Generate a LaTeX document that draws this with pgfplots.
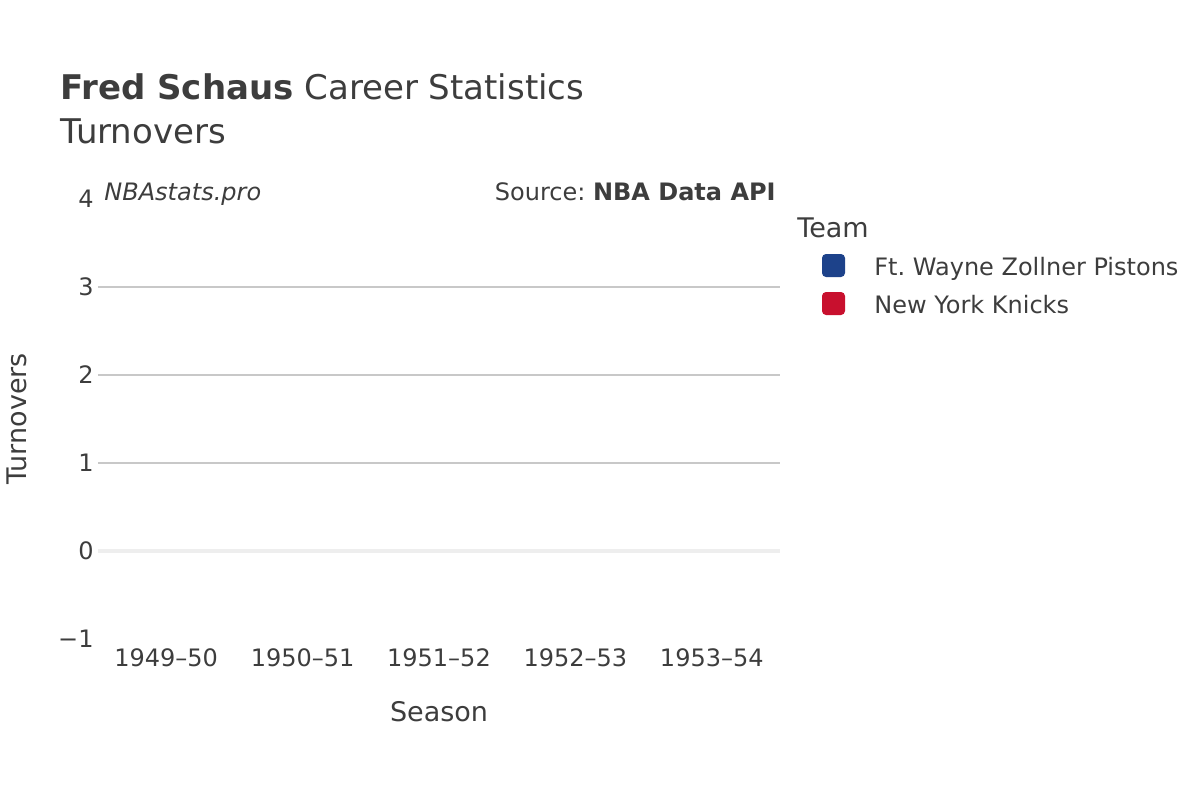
\documentclass[border=0pt]{standalone}
\usepackage{fontspec}
\setmainfont{DejaVu Sans}
\usepackage{pgfplots}
\pgfplotsset{compat=1.18}

\definecolor{txt}{HTML}{3D3D3D}
\definecolor{gridc}{HTML}{C8C8C8}
\definecolor{zeroc}{HTML}{EEEEEE}
\definecolor{pistons}{HTML}{1D428A}
\definecolor{knicks}{HTML}{C8102E}

\begin{document}
\frenchspacing
\begin{tikzpicture}[x=1pt,y=1pt]
  % page = 1200x800 px at 0.5pt per px
  \path (0,0) rectangle (600,400);

  \begin{axis}[
    at={(49pt,80.5pt)}, anchor=south west,
    scale only axis, width=341pt, height=220pt,
    xmin=-0.5, xmax=4.5, ymin=-1, ymax=4,
    axis line style={draw=none},
    major tick style={draw=none},
    xtick={0,1,2,3,4},
    xticklabels={1949–50,1950–51,1951–52,1952–53,1953–54},
    ytick={-1,0,1,2,3,4},
    yticklabels={−1,0,1,2,3,4},
    extra y ticks={1,2,3},
    extra y tick labels={},
    extra y tick style={grid=major, major grid style={draw=gridc, line width=1pt}},
    ticklabel style={font=\fontsize{12}{14}\selectfont, text=txt},
    yticklabel style={anchor=east, inner sep=0pt, xshift=-2pt},
    xticklabel style={anchor=north, inner sep=0pt, yshift=-4.5pt},
    clip=false,
  ]
    % zero line
    \draw[zeroc, line width=2pt] (axis cs:-0.5,0) -- (axis cs:4.5,0);
  \end{axis}

  % titles
  \node[anchor=base west, inner sep=0pt, text=txt, font=\fontsize{17}{20}\selectfont]
    at (30,350) {\textbf{Fred Schaus} Career Statistics};
  \node[anchor=base west, inner sep=0pt, text=txt, font=\fontsize{17}{20}\selectfont]
    at (30,328) {Turnovers};

  % watermark and source
  \node[anchor=base west, inner sep=0pt, text=txt, font=\fontsize{12}{14}\selectfont\itshape]
    at (52,300) {NBAstats.pro};
  \node[anchor=base east, inner sep=0pt, text=txt, font=\fontsize{12}{14}\selectfont]
    at (388,300) {Source: \textbf{NBA Data API}};

  % axis labels
  \node[anchor=center, inner sep=0pt, text=txt, font=\fontsize{13.5}{16}\selectfont]
    at (219.5,44) {Season};
  \node[anchor=center, rotate=90, inner sep=0pt, text=txt, font=\fontsize{13.5}{16}\selectfont]
    at (8.5,190.5) {Turnovers};

  % legend
  \node[anchor=base west, inner sep=0pt, text=txt, font=\fontsize{13.5}{16}\selectfont]
    at (398.5,281.5) {Team};
  \fill[pistons, rounded corners=2pt] (411,261.5) rectangle (422.5,273);
  \node[anchor=base west, inner sep=0pt, text=txt, font=\fontsize{12}{14}\selectfont]
    at (437,262.5) {Ft. Wayne Zollner Pistons};
  \fill[knicks, rounded corners=2pt] (411,242.5) rectangle (422.5,254);
  \node[anchor=base west, inner sep=0pt, text=txt, font=\fontsize{12}{14}\selectfont]
    at (437,243.5) {New York Knicks};
\end{tikzpicture}
\end{document}
